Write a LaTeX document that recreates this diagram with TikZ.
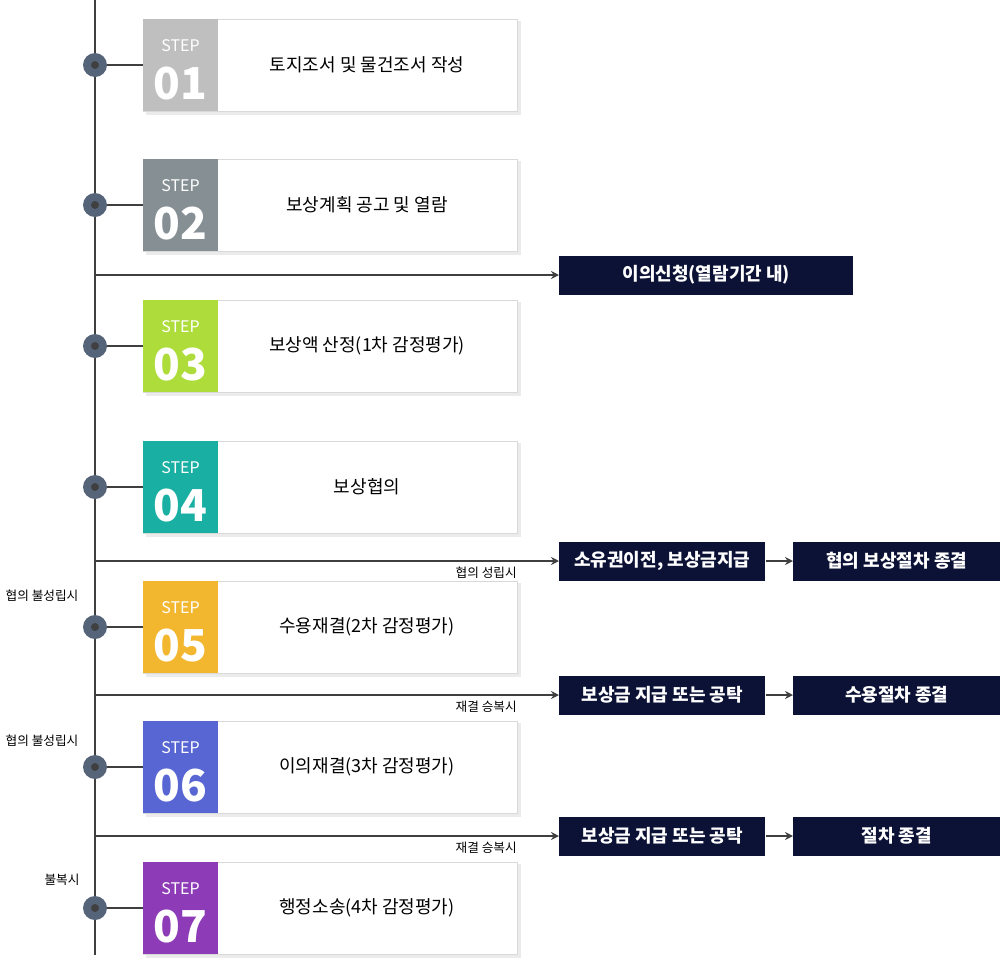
\documentclass[tikz,border=0pt]{standalone}
\usepackage{fontspec}
\setmainfont{Noto Sans CJK KR}
\usetikzlibrary{arrows.meta}
\definecolor{navy}{HTML}{0C1236}
\definecolor{dotc}{HTML}{56647A}
\definecolor{linec}{HTML}{3F3F3F}
\begin{document}
\begin{tikzpicture}[x=0.75pt,y=-0.75pt,
 card/.style={draw=black!15,fill=white,minimum width=374*0.75pt,minimum height=92*0.75pt,inner sep=0,anchor=north west},
 res/.style={fill=navy,text=white,inner sep=0,minimum height=39*0.75pt,font=\fontsize{13.5}{14}\selectfont\bfseries},
 lab/.style={font=\fontsize{9.5}{10}\selectfont,inner sep=0},
 arr/.style={draw=linec,line width=2.2pt,-{Stealth[length=6pt,width=6pt]}},
 ln/.style={draw=linec,line width=2.2pt}]
\useasboundingbox (0,0) rectangle (1000,979);
\draw[ln] (95,0) coordinate(top) -- (95,955) coordinate(bot);
\foreach \i/\y/\c/\t in {01/65/BFBFBF/토지조서 및 물건조서 작성,02/205/858F94/보상계획 공고 및 열람,03/346/AEDD3B/보상액 산정(1차 감정평가),04/487/19AFA2/보상협의,05/627/F3B72F/수용재결(2차 감정평가),06/767/5766D2/이의재결(3차 감정평가),07/908/8E3BB7/행정소송(4차 감정평가)}{
 \definecolor{sc}{HTML}{\c}
 \fill[black!8] (146,\y-44) rectangle (521,\y+50);
 \node[card] (card\i) at (143,\y-46) {};
 \fill[sc] (143,\y-46) rectangle (218,\y+46);
 \node[text=white,inner sep=0,font=\fontsize{12}{12}\selectfont] (st\i) at (180.5,\y-19) {STEP};
 \node[text=white,inner sep=0,font=\fontsize{33}{33}\selectfont\bfseries] (num\i) at (180.5,\y+19) {\i};
 \node[inner sep=0,font=\fontsize{13.5}{14}\selectfont] (txt\i) at (367,\y) {\t};
 \coordinate (d\i) at (95,\y);
 \draw[ln] (d\i) -- (card\i.west|-d\i);
 \fill[dotc] (d\i) circle (12);
 \fill[black!75] (d\i) circle (4);
}
\node[res,minimum width=294*0.75pt,anchor=west] (r1) at (559,275) {이의신청(열람기간 내)};
\coordinate (a1) at (95,275);
\draw[arr] (a1) -- (r1.west);
\foreach \k/\y/\ta/\tb/\lb in {2/561/{소유권이전, 보상금지급}/협의 보상절차 종결/협의 성립시,3/695/보상금 지급 또는 공탁/수용절차 종결/재결 승복시,4/836/보상금 지급 또는 공탁/절차 종결/재결 승복시}{
 \node[res,minimum width=206*0.75pt,anchor=west] (ra\k) at (559,\y) {\ta};
 \node[res,minimum width=207*0.75pt,anchor=west] (rb\k) at (793,\y) {\tb};
 \coordinate (a\k) at (95,\y);
 \draw[arr] (a\k) -- (ra\k.west);
 \draw[arr] (ra\k.east) -- (rb\k.west);
 \node[lab,anchor=east] (l\k) at (517,\y+12) {\lb};
}
\node[lab] (f1) at (42,596) {협의 불성립시};
\node[lab] (f2) at (42,741) {협의 불성립시};
\node[lab] (f3) at (62,880) {불복시};
\end{tikzpicture}
\end{document}
